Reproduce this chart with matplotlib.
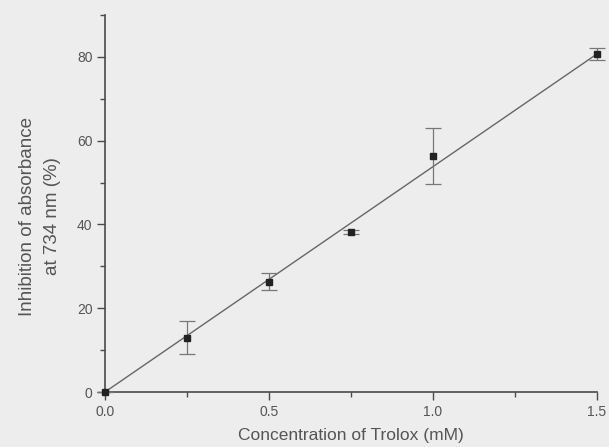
import matplotlib
matplotlib.use("Agg")
import matplotlib.pyplot as plt
from matplotlib.ticker import MultipleLocator

conc = [0.0, 0.25, 0.5, 0.75, 1.0, 1.5]
inhibition = [0.0, 13.0, 26.3, 38.2, 56.3, 80.7]
err = [0.0, 4.0, 2.0, 0.5, 6.7, 1.5]
fit_x = [0.0, 1.5]
fit_y = [0.0, 80.7]

bg = "#ededed"
ink = "#4a4a4a"
txt = "#555555"

plt.rcParams['font.family'] = ['Liberation Sans', 'DejaVu Sans']
fig = plt.figure(figsize=(6.09, 4.47), dpi=100, facecolor=bg)
ax = fig.add_axes([105/609, 1-392/447, (597-105)/609, (392-15)/447])
ax.set_facecolor(bg)

ax.plot(fit_x, fit_y, color="#666666", lw=1.0, zorder=2, clip_on=False)
ax.errorbar(conc, inhibition, yerr=err, fmt='s', color="#222222", ms=5,
            ecolor="#777777", elinewidth=0.9, capsize=5.5, capthick=0.9,
            zorder=3, clip_on=False)

ax.set_xlim(0, 1.5)
ax.set_ylim(0, 90)
ax.xaxis.set_major_locator(MultipleLocator(0.5))
ax.xaxis.set_minor_locator(MultipleLocator(0.25))
ax.yaxis.set_major_locator(MultipleLocator(20))
ax.yaxis.set_minor_locator(MultipleLocator(10))
ax.xaxis.set_major_formatter(plt.FuncFormatter(lambda v, p: f"{v:.1f}"))

for s in ['top', 'right']:
    ax.spines[s].set_visible(False)
for s in ['left', 'bottom']:
    ax.spines[s].set_color(ink)
    ax.spines[s].set_linewidth(1.2)
ax.tick_params(which='major', length=6, width=1.0, color=ink, labelcolor=txt, labelsize=10, pad=3)
ax.tick_params(which='minor', length=3.5, width=1.0, color=ink)
ax.set_xlabel("Concentration of Trolox (mM)", color=txt, fontsize=12.5, labelpad=7)
fig.text(40/609, 1-216/447, "Inhibition of absorbance\nat 734 nm (%)", color=txt,
         fontsize=13.5, rotation=90, ha='center', va='center', multialignment='center',
         linespacing=1.55)
fig.savefig("out.png", dpi=100, facecolor=bg)
